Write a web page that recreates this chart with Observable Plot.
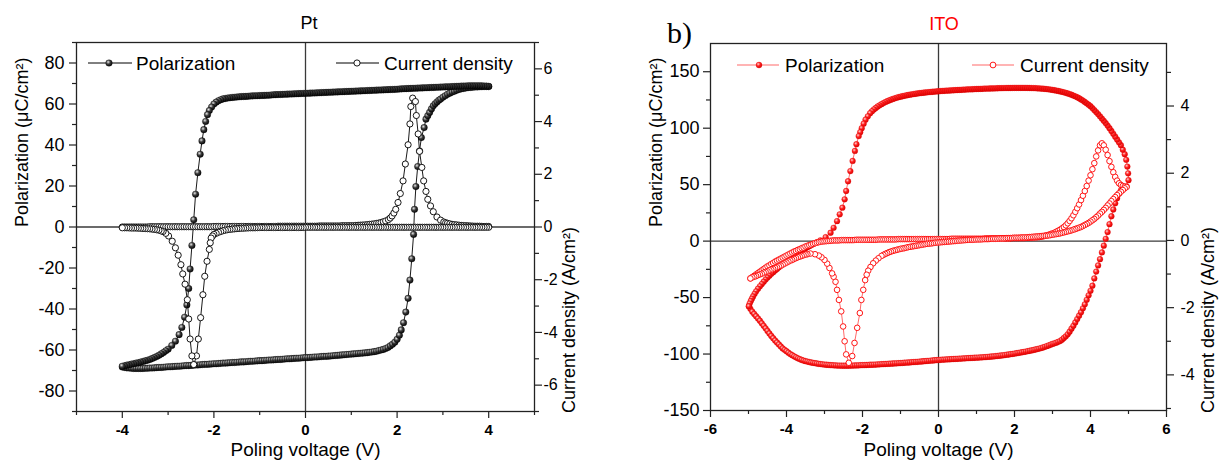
<!DOCTYPE html>
<html><head><meta charset="utf-8">
<script src="https://cdn.jsdelivr.net/npm/d3@7"></script>
<script src="https://cdn.jsdelivr.net/npm/@observablehq/plot@0.6"></script>
<style>
body{margin:0;background:#fff;}
#wrap{position:relative;width:1219px;height:466px;overflow:hidden;background:#fff;}
</style></head><body>
<div id="wrap"></div>
<script>
// ---------------- DATA ----------------
// Pt panel: [voltage V, polarization µC/cm²], rising sweep then falling sweep
const ptPolLower = [[-4.0,-68.3],[-3.95,-68.5],[-3.9,-68.7],[-3.85,-68.8],[-3.8,-68.9],[-3.75,-69.0],[-3.7,-69.0],[-3.65,-69.0],[-3.6,-69.0],[-3.55,-69.0],[-3.5,-68.9],[-3.45,-68.9],[-3.4,-68.8],[-3.35,-68.8],[-3.3,-68.7],[-3.25,-68.6],[-3.2,-68.5],[-3.15,-68.5],[-3.1,-68.4],[-3.05,-68.3],[-3.0,-68.2],[-2.95,-68.2],[-2.9,-68.1],[-2.85,-68.0],[-2.8,-67.9],[-2.75,-67.9],[-2.7,-67.8],[-2.65,-67.7],[-2.6,-67.6],[-2.55,-67.6],[-2.5,-67.5],[-2.45,-67.4],[-2.4,-67.3],[-2.35,-67.3],[-2.3,-67.2],[-2.25,-67.1],[-2.2,-67.0],[-2.15,-67.0],[-2.1,-66.9],[-2.05,-66.8],[-2.0,-66.7],[-1.95,-66.7],[-1.9,-66.6],[-1.85,-66.5],[-1.8,-66.4],[-1.75,-66.4],[-1.7,-66.3],[-1.65,-66.2],[-1.6,-66.1],[-1.55,-66.1],[-1.5,-66.0],[-1.45,-65.9],[-1.4,-65.8],[-1.35,-65.8],[-1.3,-65.7],[-1.25,-65.6],[-1.2,-65.5],[-1.15,-65.5],[-1.1,-65.4],[-1.05,-65.3],[-1.0,-65.2],[-0.95,-65.2],[-0.9,-65.1],[-0.85,-65.0],[-0.8,-64.9],[-0.75,-64.9],[-0.7,-64.8],[-0.65,-64.7],[-0.6,-64.6],[-0.55,-64.6],[-0.5,-64.5],[-0.45,-64.4],[-0.4,-64.3],[-0.35,-64.3],[-0.3,-64.2],[-0.25,-64.1],[-0.2,-64.0],[-0.15,-64.0],[-0.1,-63.9],[-0.05,-63.8],[0.0,-63.7],[0.05,-63.7],[0.1,-63.6],[0.15,-63.5],[0.2,-63.4],[0.25,-63.4],[0.3,-63.3],[0.35,-63.2],[0.4,-63.1],[0.45,-63.1],[0.5,-63.0],[0.55,-62.9],[0.6,-62.8],[0.65,-62.7],[0.7,-62.6],[0.75,-62.5],[0.8,-62.4],[0.85,-62.3],[0.9,-62.2],[0.95,-62.1],[1.0,-62.0],[1.05,-61.9],[1.1,-61.8],[1.15,-61.7],[1.2,-61.6],[1.25,-61.5],[1.3,-61.4],[1.35,-61.3],[1.4,-61.1],[1.45,-61.0],[1.5,-60.8],[1.55,-60.6],[1.6,-60.3],[1.65,-60.0],[1.7,-59.7],[1.75,-59.3],[1.8,-58.8],[1.85,-58.0],[1.9,-57.2],[1.95,-56.2],[2.0,-54.8],[2.05,-52.8],[2.09,-50.2],[2.14,-46.7],[2.19,-41.5],[2.24,-34.8],[2.28,-25.9],[2.32,-15.5],[2.36,-3.6],[2.38,8.6],[2.41,19.7],[2.45,29.5],[2.49,37.1],[2.53,43.6],[2.59,48.5],[2.63,52.6],[2.67,54.3],[2.71,55.9],[2.75,57.6],[2.79,59.1],[2.83,60.1],[2.87,61.0],[2.91,61.8],[2.95,62.4],[3.0,63.3],[3.05,64.0],[3.1,64.7],[3.15,65.3],[3.2,65.8],[3.25,66.2],[3.3,66.7],[3.35,67.1],[3.4,67.4],[3.45,67.6],[3.5,67.8],[3.55,68.0],[3.6,68.1],[3.65,68.2],[3.7,68.3],[3.75,68.35],[3.8,68.4],[3.85,68.45],[3.9,68.5],[3.95,68.5],[4.0,68.5]];
const ptPolUpper = [[4.0,68.6],[3.95,68.7],[3.9,68.8],[3.85,68.85],[3.8,68.9],[3.75,68.9],[3.7,68.9],[3.65,68.9],[3.6,68.9],[3.55,68.85],[3.5,68.8],[3.45,68.75],[3.4,68.7],[3.35,68.65],[3.3,68.6],[3.25,68.55],[3.2,68.5],[3.15,68.45],[3.1,68.4],[3.05,68.35],[3.0,68.3],[2.95,68.25],[2.9,68.2],[2.85,68.15],[2.8,68.1],[2.75,68.05],[2.7,68.0],[2.65,67.95],[2.6,67.9],[2.55,67.85],[2.5,67.8],[2.45,67.75],[2.4,67.7],[2.35,67.65],[2.3,67.6],[2.25,67.55],[2.2,67.5],[2.15,67.45],[2.1,67.4],[2.05,67.3],[2.0,67.2],[1.95,67.15],[1.9,67.1],[1.85,67.05],[1.8,67.0],[1.75,66.95],[1.7,66.9],[1.65,66.85],[1.6,66.8],[1.55,66.75],[1.5,66.7],[1.45,66.65],[1.4,66.6],[1.35,66.55],[1.3,66.5],[1.25,66.45],[1.2,66.4],[1.15,66.35],[1.1,66.3],[1.05,66.25],[1.0,66.2],[0.95,66.15],[0.9,66.1],[0.85,66.05],[0.8,66.0],[0.75,65.95],[0.7,65.9],[0.65,65.85],[0.6,65.8],[0.55,65.75],[0.5,65.7],[0.45,65.65],[0.4,65.6],[0.35,65.55],[0.3,65.5],[0.25,65.45],[0.2,65.4],[0.15,65.35],[0.1,65.3],[0.05,65.25],[0.0,65.2],[-0.05,65.15],[-0.1,65.1],[-0.15,65.05],[-0.2,65.0],[-0.25,64.95],[-0.3,64.9],[-0.35,64.85],[-0.4,64.8],[-0.45,64.75],[-0.5,64.7],[-0.55,64.65],[-0.6,64.6],[-0.65,64.55],[-0.7,64.5],[-0.75,64.4],[-0.8,64.3],[-0.85,64.25],[-0.9,64.2],[-0.95,64.15],[-1.0,64.1],[-1.05,64.05],[-1.1,64.0],[-1.15,63.95],[-1.2,63.9],[-1.25,63.8],[-1.3,63.7],[-1.35,63.65],[-1.4,63.6],[-1.45,63.5],[-1.5,63.4],[-1.55,63.3],[-1.6,63.2],[-1.65,63.05],[-1.7,62.9],[-1.75,62.7],[-1.8,62.5],[-1.85,62.1],[-1.9,61.6],[-1.95,60.9],[-2.0,60.0],[-2.05,58.5],[-2.1,56.8],[-2.14,54.8],[-2.18,51.5],[-2.22,47.5],[-2.26,42.0],[-2.3,35.5],[-2.35,26.5],[-2.4,16.0],[-2.44,3.5],[-2.48,-9.0],[-2.52,-20.5],[-2.55,-30.0],[-2.59,-38.0],[-2.64,-44.0],[-2.7,-49.0],[-2.76,-52.5],[-2.84,-55.7],[-2.92,-57.8],[-3.0,-59.6],[-3.05,-60.4],[-3.1,-61.2],[-3.15,-61.9],[-3.2,-62.6],[-3.25,-63.2],[-3.3,-63.7],[-3.35,-64.2],[-3.4,-64.6],[-3.45,-65.0],[-3.5,-65.3],[-3.55,-65.6],[-3.6,-65.9],[-3.65,-66.2],[-3.7,-66.4],[-3.75,-66.7],[-3.8,-66.9],[-3.85,-67.2],[-3.9,-67.4],[-3.95,-67.7],[-4.0,-67.9]];
// Pt panel: [voltage V, current density A/cm²]
const ptCurUp = [[-4.0,0.0],[-3.95,0.0],[-3.9,0.0],[-3.85,0.0],[-3.8,0.0],[-3.75,0.0],[-3.7,0.0],[-3.65,0.0],[-3.6,0.0],[-3.55,0.0],[-3.5,0.0],[-3.45,0.0],[-3.4,0.01],[-3.35,0.01],[-3.3,0.01],[-3.25,0.01],[-3.2,0.01],[-3.15,0.01],[-3.1,0.01],[-3.05,0.01],[-3.0,0.01],[-2.95,0.01],[-2.9,0.01],[-2.85,0.01],[-2.8,0.01],[-2.75,0.01],[-2.7,0.01],[-2.65,0.01],[-2.6,0.01],[-2.55,0.01],[-2.5,0.01],[-2.45,0.01],[-2.4,0.01],[-2.35,0.01],[-2.3,0.01],[-2.25,0.01],[-2.2,0.01],[-2.15,0.01],[-2.1,0.01],[-2.05,0.01],[-2.0,0.02],[-1.95,0.02],[-1.9,0.02],[-1.85,0.02],[-1.8,0.02],[-1.75,0.02],[-1.7,0.02],[-1.65,0.02],[-1.6,0.02],[-1.55,0.02],[-1.5,0.02],[-1.45,0.02],[-1.4,0.02],[-1.35,0.02],[-1.3,0.02],[-1.25,0.02],[-1.2,0.02],[-1.15,0.02],[-1.1,0.02],[-1.05,0.02],[-1.0,0.02],[-0.95,0.02],[-0.9,0.02],[-0.85,0.02],[-0.8,0.02],[-0.75,0.02],[-0.7,0.02],[-0.65,0.02],[-0.6,0.03],[-0.55,0.03],[-0.5,0.03],[-0.45,0.03],[-0.4,0.03],[-0.35,0.03],[-0.3,0.03],[-0.25,0.03],[-0.2,0.03],[-0.15,0.03],[-0.1,0.03],[-0.05,0.03],[0.0,0.03],[0.05,0.03],[0.1,0.03],[0.15,0.03],[0.2,0.03],[0.25,0.03],[0.3,0.04],[0.35,0.04],[0.4,0.04],[0.45,0.04],[0.5,0.04],[0.55,0.04],[0.6,0.04],[0.65,0.04],[0.7,0.04],[0.75,0.04],[0.8,0.05],[0.85,0.05],[0.9,0.05],[0.95,0.05],[1.0,0.05],[1.05,0.05],[1.1,0.06],[1.15,0.065],[1.2,0.07],[1.25,0.075],[1.3,0.08],[1.35,0.09],[1.4,0.1],[1.45,0.11],[1.5,0.12],[1.55,0.135],[1.6,0.15],[1.65,0.17],[1.7,0.2],[1.75,0.23],[1.81,0.28],[1.85,0.34],[1.89,0.42],[1.93,0.53],[1.97,0.67],[2.02,0.93],[2.07,1.27],[2.13,1.75],[2.18,2.39],[2.24,3.12],[2.28,3.91],[2.3,4.57],[2.34,4.89],[2.4,4.76],[2.42,4.23],[2.46,3.53],[2.49,2.87],[2.54,2.26],[2.58,1.75],[2.63,1.35],[2.67,1.05],[2.73,0.8],[2.79,0.58],[2.87,0.38],[2.95,0.26],[3.02,0.19],[3.06,0.16],[3.1,0.14],[3.15,0.12],[3.2,0.1],[3.25,0.09],[3.3,0.08],[3.35,0.07],[3.4,0.06],[3.45,0.055],[3.5,0.05],[3.55,0.045],[3.6,0.04],[3.65,0.035],[3.7,0.03],[3.75,0.03],[3.8,0.03],[3.85,0.025],[3.9,0.02],[3.95,0.02],[4.0,0.02]];
const ptCurDown = [[4.0,-0.01],[3.95,-0.01],[3.9,-0.01],[3.85,-0.01],[3.8,-0.01],[3.75,-0.01],[3.7,-0.01],[3.65,-0.01],[3.6,-0.01],[3.55,-0.01],[3.5,-0.01],[3.45,-0.01],[3.4,-0.01],[3.35,-0.01],[3.3,-0.01],[3.25,-0.01],[3.2,-0.01],[3.15,-0.01],[3.1,-0.01],[3.05,-0.01],[3.0,-0.01],[2.95,-0.01],[2.9,-0.01],[2.85,-0.01],[2.8,-0.01],[2.75,-0.01],[2.7,-0.01],[2.65,-0.01],[2.6,-0.01],[2.55,-0.01],[2.5,-0.01],[2.45,-0.01],[2.4,-0.01],[2.35,-0.01],[2.3,-0.01],[2.25,-0.01],[2.2,-0.01],[2.15,-0.01],[2.1,-0.01],[2.05,-0.01],[2.0,-0.01],[1.95,-0.01],[1.9,-0.01],[1.85,-0.01],[1.8,-0.01],[1.75,-0.01],[1.7,-0.01],[1.65,-0.01],[1.6,-0.01],[1.55,-0.01],[1.5,-0.01],[1.45,-0.01],[1.4,-0.01],[1.35,-0.01],[1.3,-0.01],[1.25,-0.01],[1.2,-0.01],[1.15,-0.01],[1.1,-0.01],[1.05,-0.01],[1.0,-0.01],[0.95,-0.01],[0.9,-0.01],[0.85,-0.01],[0.8,-0.01],[0.75,-0.01],[0.7,-0.01],[0.65,-0.01],[0.6,-0.01],[0.55,-0.01],[0.5,-0.01],[0.45,-0.01],[0.4,-0.01],[0.35,-0.01],[0.3,-0.01],[0.25,-0.01],[0.2,-0.01],[0.15,-0.01],[0.1,-0.01],[0.05,-0.01],[0.0,-0.01],[-0.05,-0.02],[-0.1,-0.02],[-0.15,-0.02],[-0.2,-0.02],[-0.25,-0.02],[-0.3,-0.02],[-0.35,-0.02],[-0.4,-0.02],[-0.45,-0.02],[-0.5,-0.02],[-0.55,-0.02],[-0.6,-0.02],[-0.65,-0.02],[-0.7,-0.02],[-0.75,-0.02],[-0.8,-0.02],[-0.85,-0.02],[-0.9,-0.02],[-0.95,-0.02],[-1.0,-0.02],[-1.05,-0.025],[-1.1,-0.03],[-1.15,-0.03],[-1.2,-0.03],[-1.25,-0.035],[-1.3,-0.04],[-1.35,-0.045],[-1.4,-0.05],[-1.45,-0.055],[-1.5,-0.06],[-1.55,-0.07],[-1.6,-0.08],[-1.65,-0.09],[-1.7,-0.1],[-1.75,-0.12],[-1.8,-0.14],[-1.85,-0.17],[-1.9,-0.2],[-1.95,-0.24],[-2.0,-0.28],[-2.03,-0.34],[-2.06,-0.42],[-2.08,-0.6],[-2.1,-0.85],[-2.15,-1.3],[-2.2,-1.87],[-2.24,-2.57],[-2.29,-3.44],[-2.34,-4.25],[-2.38,-4.89],[-2.44,-5.22],[-2.48,-4.89],[-2.52,-4.25],[-2.55,-3.49],[-2.58,-2.76],[-2.63,-2.17],[-2.68,-1.78],[-2.72,-1.43],[-2.78,-1.07],[-2.84,-0.79],[-2.91,-0.54],[-2.99,-0.34],[-3.05,-0.24],[-3.11,-0.17],[-3.15,-0.15],[-3.2,-0.12],[-3.25,-0.105],[-3.3,-0.09],[-3.35,-0.08],[-3.4,-0.07],[-3.45,-0.065],[-3.5,-0.06],[-3.55,-0.055],[-3.6,-0.05],[-3.65,-0.045],[-3.7,-0.04],[-3.75,-0.04],[-3.8,-0.04],[-3.85,-0.035],[-3.9,-0.03],[-3.95,-0.03],[-4.0,-0.03]];

// ITO panel: [voltage V, polarization µC/cm²]
const itoPolLower = [[-4.99,-57.7],[-4.95,-60],[-4.9,-62.5],[-4.85,-64.5],[-4.8,-66.5],[-4.75,-68.5],[-4.7,-70.5],[-4.65,-72.8],[-4.6,-75],[-4.55,-77.2],[-4.5,-79.5],[-4.45,-81.8],[-4.4,-84],[-4.35,-86],[-4.3,-88],[-4.25,-89.8],[-4.2,-91.5],[-4.15,-93.3],[-4.1,-95],[-4.05,-96.3],[-4.0,-97.5],[-3.95,-98.8],[-3.9,-100],[-3.85,-101],[-3.8,-102],[-3.75,-102.9],[-3.7,-103.8],[-3.65,-104.5],[-3.6,-105.2],[-3.55,-105.8],[-3.5,-106.3],[-3.45,-106.7],[-3.4,-107.1],[-3.35,-107.5],[-3.3,-107.8],[-3.25,-108.1],[-3.2,-108.4],[-3.15,-108.7],[-3.1,-108.9],[-3.05,-109.1],[-3.0,-109.3],[-2.95,-109.5],[-2.9,-109.6],[-2.85,-109.8],[-2.8,-109.9],[-2.75,-110.0],[-2.7,-110.1],[-2.65,-110.2],[-2.6,-110.2],[-2.55,-110.3],[-2.5,-110.3],[-2.45,-110.3],[-2.4,-110.3],[-2.35,-110.3],[-2.3,-110.2],[-2.25,-110.2],[-2.2,-110.1],[-2.15,-110.1],[-2.1,-110.0],[-2.05,-109.9],[-2.0,-109.8],[-1.95,-109.8],[-1.9,-109.7],[-1.85,-109.6],[-1.8,-109.5],[-1.75,-109.5],[-1.7,-109.4],[-1.65,-109.3],[-1.6,-109.2],[-1.55,-109.1],[-1.5,-109.0],[-1.45,-108.9],[-1.4,-108.8],[-1.35,-108.7],[-1.3,-108.6],[-1.25,-108.5],[-1.2,-108.4],[-1.15,-108.3],[-1.1,-108.2],[-1.05,-108.1],[-1.0,-108.0],[-0.95,-107.9],[-0.9,-107.7],[-0.85,-107.6],[-0.8,-107.5],[-0.75,-107.4],[-0.7,-107.2],[-0.65,-107.1],[-0.6,-107.0],[-0.55,-106.9],[-0.5,-106.7],[-0.45,-106.6],[-0.4,-106.4],[-0.35,-106.3],[-0.3,-106.1],[-0.25,-106.0],[-0.2,-105.8],[-0.15,-105.7],[-0.1,-105.5],[-0.05,-105.4],[0.0,-105.3],[0.05,-105.1],[0.1,-105.0],[0.15,-104.9],[0.2,-104.8],[0.25,-104.7],[0.3,-104.6],[0.35,-104.5],[0.4,-104.4],[0.45,-104.3],[0.5,-104.2],[0.55,-104.1],[0.6,-104.0],[0.65,-103.9],[0.7,-103.8],[0.75,-103.7],[0.8,-103.6],[0.85,-103.5],[0.9,-103.4],[0.95,-103.3],[1.0,-103.2],[1.05,-103.1],[1.1,-103.0],[1.15,-102.9],[1.2,-102.8],[1.25,-102.7],[1.3,-102.5],[1.35,-102.4],[1.4,-102.2],[1.45,-102.1],[1.5,-101.9],[1.55,-101.7],[1.6,-101.5],[1.65,-101.3],[1.7,-101.1],[1.75,-100.9],[1.8,-100.6],[1.85,-100.4],[1.9,-100.1],[1.95,-99.9],[2.0,-99.6],[2.05,-99.3],[2.1,-99.0],[2.15,-98.7],[2.2,-98.4],[2.25,-98.1],[2.3,-97.8],[2.35,-97.5],[2.4,-97.1],[2.45,-96.8],[2.5,-96.4],[2.55,-96.0],[2.6,-95.6],[2.65,-95.2],[2.7,-94.7],[2.75,-94.2],[2.8,-93.6],[2.85,-93.0],[2.9,-92.4],[2.95,-91.7],[3.0,-91.0],[3.05,-90.5],[3.1,-89.9],[3.15,-89.2],[3.2,-88.5],[3.25,-87.3],[3.3,-85.8],[3.35,-84.3],[3.4,-82.5],[3.45,-80.2],[3.5,-77.5],[3.55,-75],[3.6,-72],[3.65,-69],[3.7,-66],[3.75,-63],[3.8,-59.5],[3.85,-56],[3.9,-52],[3.95,-48],[4.0,-44],[4.05,-39.5],[4.1,-33],[4.15,-27],[4.2,-21.5],[4.25,-16],[4.3,-10],[4.35,-4],[4.4,2],[4.45,8],[4.5,15],[4.55,22],[4.6,28],[4.65,33.5],[4.7,38],[4.75,42],[4.8,45],[4.85,47],[4.9,48],[4.95,48.5]];
const itoPolUpper = [[5.0,54],[4.99,60],[4.97,66],[4.94,72],[4.9,77],[4.85,81],[4.8,85],[4.75,87.5],[4.7,90],[4.65,92.5],[4.6,95],[4.55,97.5],[4.5,100],[4.45,102.3],[4.4,104.5],[4.35,106.5],[4.3,108.5],[4.25,110.5],[4.2,112.5],[4.15,114.3],[4.1,116],[4.05,117.8],[4.0,119.5],[3.95,120.8],[3.9,122],[3.85,123.3],[3.8,124.5],[3.75,125.5],[3.7,126.5],[3.65,127.4],[3.6,128.2],[3.55,128.9],[3.5,129.6],[3.45,130.2],[3.4,130.8],[3.35,131.3],[3.3,131.8],[3.25,132.2],[3.2,132.6],[3.15,133.0],[3.1,133.3],[3.05,133.6],[3.0,133.9],[2.95,134.2],[2.9,134.4],[2.85,134.6],[2.8,134.8],[2.75,135.0],[2.7,135.1],[2.65,135.2],[2.6,135.3],[2.55,135.4],[2.5,135.5],[2.45,135.55],[2.4,135.6],[2.35,135.65],[2.3,135.7],[2.25,135.7],[2.2,135.7],[2.15,135.7],[2.1,135.7],[2.05,135.7],[2.0,135.7],[1.95,135.65],[1.9,135.6],[1.85,135.6],[1.8,135.6],[1.75,135.55],[1.7,135.5],[1.65,135.45],[1.6,135.4],[1.55,135.35],[1.5,135.3],[1.45,135.25],[1.4,135.2],[1.35,135.15],[1.3,135.1],[1.25,135.05],[1.2,135.0],[1.15,134.9],[1.1,134.8],[1.05,134.75],[1.0,134.7],[0.95,134.6],[0.9,134.5],[0.85,134.45],[0.8,134.4],[0.75,134.3],[0.7,134.2],[0.65,134.1],[0.6,134.0],[0.55,133.9],[0.5,133.8],[0.45,133.7],[0.4,133.6],[0.35,133.5],[0.3,133.4],[0.25,133.3],[0.2,133.2],[0.15,133.1],[0.1,133.0],[0.05,132.85],[0.0,132.7],[-0.05,132.55],[-0.1,132.4],[-0.15,132.25],[-0.2,132.1],[-0.25,131.95],[-0.3,131.8],[-0.35,131.6],[-0.4,131.4],[-0.45,131.2],[-0.5,131.0],[-0.55,130.75],[-0.6,130.5],[-0.65,130.25],[-0.7,130.0],[-0.75,129.7],[-0.8,129.4],[-0.85,129.05],[-0.9,128.7],[-0.95,128.3],[-1.0,127.9],[-1.05,127.45],[-1.1,127.0],[-1.15,126.45],[-1.2,125.9],[-1.25,125.25],[-1.3,124.6],[-1.35,123.85],[-1.4,123.1],[-1.45,122.2],[-1.5,121.3],[-1.55,120.25],[-1.6,119.2],[-1.65,117.9],[-1.7,116.6],[-1.75,115.0],[-1.8,113.3],[-1.86,110.5],[-1.92,107.5],[-1.97,104],[-2.02,100],[-2.06,96.5],[-2.1,93],[-2.16,85.8],[-2.2,79.9],[-2.26,71],[-2.32,62],[-2.38,53],[-2.43,44.4],[-2.47,37],[-2.53,29.6],[-2.6,23.7],[-2.67,17.7],[-2.76,11.8],[-2.84,7.4],[-2.97,3.5],[-3.11,0.6],[-3.2,-1.0],[-3.28,-2.4],[-3.35,-3.6],[-3.4,-4.5],[-3.45,-5.4],[-3.5,-6.3],[-3.55,-7.3],[-3.6,-8.3],[-3.65,-9.4],[-3.7,-10.5],[-3.75,-11.7],[-3.8,-13],[-3.85,-14.2],[-3.9,-15.5],[-3.95,-16.7],[-4.0,-18],[-4.05,-19.2],[-4.1,-20.5],[-4.15,-21.8],[-4.2,-23.2],[-4.25,-24.6],[-4.3,-26],[-4.35,-27.5],[-4.4,-29],[-4.45,-30.6],[-4.5,-32.3],[-4.55,-34.1],[-4.6,-36],[-4.65,-38],[-4.7,-40],[-4.75,-42.2],[-4.8,-44.5],[-4.84,-46.7],[-4.88,-49],[-4.91,-51],[-4.94,-53],[-4.97,-55.3],[-4.99,-57.7]];
// ITO panel: [voltage V, current density A/cm²]
const itoCurUp = [[-4.95,-1.13],[-4.9,-1.09],[-4.85,-1.05],[-4.8,-1.01],[-4.75,-0.97],[-4.7,-0.93],[-4.65,-0.89],[-4.6,-0.85],[-4.55,-0.81],[-4.5,-0.77],[-4.45,-0.74],[-4.4,-0.7],[-4.35,-0.67],[-4.3,-0.63],[-4.25,-0.6],[-4.2,-0.57],[-4.15,-0.54],[-4.1,-0.51],[-4.05,-0.48],[-4.0,-0.45],[-3.95,-0.42],[-3.9,-0.39],[-3.85,-0.36],[-3.8,-0.33],[-3.75,-0.31],[-3.7,-0.28],[-3.65,-0.26],[-3.6,-0.23],[-3.55,-0.21],[-3.5,-0.18],[-3.45,-0.16],[-3.4,-0.14],[-3.35,-0.12],[-3.3,-0.1],[-3.25,-0.08],[-3.2,-0.065],[-3.15,-0.05],[-3.1,-0.04],[-3.05,-0.03],[-3.0,-0.025],[-2.95,-0.02],[-2.9,-0.015],[-2.85,-0.01],[-2.8,-0.005],[-2.75,0.0],[-2.7,0.0],[-2.65,0.0],[-2.6,0.005],[-2.55,0.01],[-2.5,0.01],[-2.45,0.01],[-2.4,0.01],[-2.35,0.01],[-2.3,0.01],[-2.25,0.01],[-2.2,0.015],[-2.15,0.02],[-2.1,0.02],[-2.05,0.02],[-2.0,0.02],[-1.95,0.02],[-1.9,0.02],[-1.85,0.02],[-1.8,0.02],[-1.75,0.02],[-1.7,0.02],[-1.65,0.02],[-1.6,0.025],[-1.55,0.03],[-1.5,0.03],[-1.45,0.03],[-1.4,0.03],[-1.35,0.03],[-1.3,0.03],[-1.25,0.03],[-1.2,0.03],[-1.15,0.03],[-1.1,0.035],[-1.05,0.04],[-1.0,0.04],[-0.95,0.04],[-0.9,0.04],[-0.85,0.04],[-0.8,0.04],[-0.75,0.04],[-0.7,0.04],[-0.65,0.04],[-0.6,0.04],[-0.55,0.04],[-0.5,0.04],[-0.45,0.04],[-0.4,0.04],[-0.35,0.04],[-0.3,0.04],[-0.25,0.04],[-0.2,0.04],[-0.15,0.04],[-0.1,0.04],[-0.05,0.04],[0.0,0.04],[0.05,0.04],[0.1,0.04],[0.15,0.04],[0.2,0.04],[0.25,0.04],[0.3,0.045],[0.35,0.05],[0.4,0.05],[0.45,0.05],[0.5,0.05],[0.55,0.05],[0.6,0.05],[0.65,0.05],[0.7,0.05],[0.75,0.05],[0.8,0.05],[0.85,0.05],[0.9,0.05],[0.95,0.05],[1.0,0.05],[1.05,0.05],[1.1,0.05],[1.15,0.05],[1.2,0.055],[1.25,0.06],[1.3,0.06],[1.35,0.06],[1.4,0.06],[1.45,0.06],[1.5,0.06],[1.55,0.06],[1.6,0.06],[1.65,0.06],[1.7,0.06],[1.75,0.06],[1.8,0.06],[1.85,0.06],[1.9,0.065],[1.95,0.07],[2.0,0.07],[2.05,0.07],[2.1,0.07],[2.15,0.07],[2.2,0.07],[2.25,0.07],[2.3,0.075],[2.35,0.08],[2.4,0.08],[2.45,0.08],[2.5,0.085],[2.55,0.09],[2.6,0.095],[2.65,0.1],[2.7,0.11],[2.75,0.12],[2.8,0.135],[2.85,0.15],[2.9,0.17],[2.95,0.19],[3.0,0.21],[3.05,0.23],[3.1,0.26],[3.15,0.29],[3.2,0.32],[3.25,0.36],[3.3,0.4],[3.35,0.45],[3.4,0.51],[3.45,0.58],[3.5,0.66],[3.55,0.75],[3.6,0.85],[3.65,0.96],[3.7,1.07],[3.75,1.2],[3.8,1.33],[3.85,1.47],[3.9,1.62],[3.95,1.78],[4.0,1.94],[4.05,2.12],[4.1,2.3],[4.15,2.5],[4.2,2.68],[4.25,2.83],[4.3,2.89],[4.35,2.83],[4.4,2.7],[4.45,2.54],[4.5,2.36],[4.55,2.19],[4.6,2.03],[4.65,1.89],[4.7,1.78],[4.75,1.7],[4.8,1.65],[4.85,1.62],[4.9,1.6],[4.95,1.59]];
const itoCurDown = [[4.9,1.55],[4.85,1.5],[4.8,1.45],[4.75,1.4],[4.7,1.35],[4.65,1.29],[4.6,1.23],[4.55,1.17],[4.5,1.1],[4.45,1.04],[4.4,0.97],[4.35,0.91],[4.3,0.85],[4.25,0.8],[4.2,0.74],[4.15,0.69],[4.1,0.64],[4.05,0.6],[4.0,0.56],[3.95,0.52],[3.9,0.49],[3.85,0.46],[3.8,0.43],[3.75,0.4],[3.7,0.38],[3.65,0.36],[3.6,0.34],[3.55,0.32],[3.5,0.3],[3.45,0.285],[3.4,0.27],[3.35,0.255],[3.3,0.24],[3.25,0.225],[3.2,0.21],[3.15,0.2],[3.1,0.19],[3.05,0.18],[3.0,0.17],[2.95,0.16],[2.9,0.15],[2.85,0.145],[2.8,0.14],[2.75,0.135],[2.7,0.13],[2.65,0.125],[2.6,0.12],[2.55,0.115],[2.5,0.11],[2.45,0.105],[2.4,0.1],[2.35,0.095],[2.3,0.09],[2.25,0.09],[2.2,0.09],[2.15,0.085],[2.1,0.08],[2.05,0.08],[2.0,0.08],[1.95,0.075],[1.9,0.07],[1.85,0.07],[1.8,0.07],[1.75,0.065],[1.7,0.06],[1.65,0.06],[1.6,0.06],[1.55,0.055],[1.5,0.05],[1.45,0.05],[1.4,0.05],[1.35,0.045],[1.3,0.04],[1.25,0.04],[1.2,0.04],[1.15,0.035],[1.1,0.03],[1.05,0.03],[1.0,0.03],[0.95,0.025],[0.9,0.02],[0.85,0.02],[0.8,0.02],[0.75,0.015],[0.7,0.01],[0.65,0.005],[0.6,0.0],[0.55,-0.005],[0.5,-0.01],[0.45,-0.015],[0.4,-0.02],[0.35,-0.025],[0.3,-0.03],[0.25,-0.035],[0.2,-0.04],[0.15,-0.045],[0.1,-0.05],[0.05,-0.055],[0.0,-0.06],[-0.05,-0.065],[-0.1,-0.07],[-0.15,-0.08],[-0.2,-0.09],[-0.25,-0.095],[-0.3,-0.1],[-0.35,-0.11],[-0.4,-0.12],[-0.45,-0.13],[-0.5,-0.14],[-0.55,-0.15],[-0.6,-0.16],[-0.65,-0.17],[-0.7,-0.18],[-0.75,-0.19],[-0.8,-0.2],[-0.85,-0.215],[-0.9,-0.23],[-0.95,-0.24],[-1.0,-0.25],[-1.05,-0.265],[-1.1,-0.28],[-1.15,-0.295],[-1.2,-0.31],[-1.25,-0.33],[-1.3,-0.35],[-1.35,-0.375],[-1.4,-0.4],[-1.45,-0.43],[-1.5,-0.46],[-1.58,-0.53],[-1.65,-0.6],[-1.72,-0.68],[-1.79,-0.79],[-1.85,-0.9],[-1.89,-1.02],[-1.93,-1.18],[-1.98,-1.47],[-2.03,-1.77],[-2.07,-2.16],[-2.14,-2.6],[-2.21,-3.05],[-2.27,-3.44],[-2.36,-3.64],[-2.43,-3.39],[-2.47,-3.0],[-2.51,-2.56],[-2.56,-2.11],[-2.62,-1.77],[-2.67,-1.47],[-2.71,-1.23],[-2.76,-1.08],[-2.8,-0.98],[-2.87,-0.82],[-2.93,-0.69],[-3.0,-0.58],[-3.08,-0.5],[-3.15,-0.45],[-3.25,-0.41],[-3.37,-0.39],[-3.45,-0.41],[-3.5,-0.42],[-3.55,-0.44],[-3.6,-0.46],[-3.65,-0.48],[-3.7,-0.5],[-3.75,-0.525],[-3.8,-0.55],[-3.85,-0.58],[-3.9,-0.6],[-3.95,-0.63],[-4.0,-0.66],[-4.05,-0.69],[-4.1,-0.72],[-4.15,-0.75],[-4.2,-0.77],[-4.25,-0.8],[-4.3,-0.82],[-4.35,-0.85],[-4.4,-0.87],[-4.45,-0.89],[-4.5,-0.92],[-4.55,-0.94],[-4.6,-0.96],[-4.65,-0.99],[-4.7,-1.01],[-4.75,-1.03],[-4.8,-1.06],[-4.85,-1.08],[-4.9,-1.1],[-4.95,-1.13]];

// tick values
const ptXMajor = [-4, -2, 0, 2, 4];
const ptXMinor = [-5, -3, -1, 1, 3, 5];
const ptPMajor = [-80, -60, -40, -20, 0, 20, 40, 60, 80];
const ptPMinor = [-90, -70, -50, -30, -10, 10, 30, 50, 70, 90];
const ptJMajor = [-6, -4, -2, 0, 2, 4, 6];
const ptJMinor = [-7, -5, -3, -1, 1, 3, 5, 7];
const itoXMajor = [-6, -4, -2, 0, 2, 4, 6];
const itoXMinor = [-5, -3, -1, 1, 3, 5];
const itoPMajor = [-150, -100, -50, 0, 50, 100, 150];
const itoPMinor = [-125, -75, -25, 25, 75, 125];
const itoJMajor = [-4, -2, 0, 2, 4];
const itoJMinor = [-5, -3, -1, 1, 3, 5];

// ---------------- DRAWING ----------------
const FONT = '"Liberation Sans", Arial, Helvetica, sans-serif';
const NARROW = '"Liberation Sans Narrow", "Arial Narrow", "Liberation Sans", Arial, sans-serif';
const fmt = d => String(d);
const blank = () => "";
const wrap = document.getElementById("wrap");
const AX = "#222";

function layer(left, width, svg) {
  const d = document.createElement("div");
  d.style.cssText = `position:absolute;left:${left}px;top:0;width:${width}px;height:466px;`;
  d.appendChild(svg);
  wrap.appendChild(d);
}
const toPol = arr => arr.map(([v, p]) => ({v, p}));
const toCur = arr => arr.map(([v, j]) => ({v, j}));

const ptPol = toPol(ptPolLower.concat(ptPolUpper));
const ptCur = toCur(ptCurUp.concat(ptCurDown));
const itoPol = toPol(itoPolLower.concat(itoPolUpper));
const itoCur = toCur(itoCurUp.concat(itoCurDown));

const baseStyle = {background: "transparent", fontFamily: FONT, overflow: "visible"};
const xTickText = {fontSize: 15, fontFamily: NARROW, fontWeight: "bold"};

// ---- Pt, polarization (left axis)
const ptM = {width: 610, height: 466, marginLeft: 76, marginRight: 76, marginTop: 42, marginBottom: 55};
layer(0, 610, Plot.plot({
  ...ptM, style: baseStyle,
  x: {domain: [-5, 5]}, y: {domain: [-90, 90]},
  marks: [
    Plot.ruleX([0], {stroke: "#3a3a3a", strokeWidth: 1.3}),
    Plot.ruleY([0], {stroke: "#3a3a3a", strokeWidth: 1.3}),
    Plot.line(ptPol, {x: "v", y: "p", stroke: "#000", strokeWidth: 0.9}),
    Plot.dot(ptPol, {x: "v", y: "p", r: 3.3, fill: "url(#gBlk)", stroke: "#000", strokeWidth: 0.3}),
    Plot.frame({stroke: AX, strokeWidth: 1.3}),
    Plot.axisX(ptXMajor, {tickSize: 7, tickPadding: 6, tickFormat: fmt, ...xTickText, label: null, stroke: AX, strokeWidth: 1.2}),
    Plot.axisX(ptXMinor, {tickSize: 4, tickFormat: blank, label: null, stroke: AX, strokeWidth: 1.2}),
    Plot.axisY(ptPMajor, {anchor: "left", tickSize: 7, tickPadding: 5, tickFormat: fmt, fontSize: 18, label: null, stroke: AX, strokeWidth: 1.2}),
    Plot.axisY(ptPMinor, {anchor: "left", tickSize: 4, tickFormat: blank, label: null, stroke: AX, strokeWidth: 1.2}),
    Plot.text(["Poling voltage (V)"], {frameAnchor: "bottom", dy: 44, fontSize: 19}),
    Plot.text(["Polarization (μC/cm²)"], {frameAnchor: "left", dx: -54, rotate: -90, fontSize: 18})
  ]
}));
// ---- Pt, current density (right axis)
layer(0, 610, Plot.plot({
  ...ptM, style: baseStyle,
  x: {domain: [-5, 5], axis: null}, y: {domain: [-7, 7]},
  marks: [
    Plot.line(ptCur, {x: "v", y: "j", stroke: "#000", strokeWidth: 0.9}),
    Plot.dot(ptCur, {x: "v", y: "j", r: 3.1, fill: "#fff", stroke: "#000", strokeWidth: 0.9}),
    Plot.axisY(ptJMajor, {anchor: "right", tickSize: 7, tickPadding: 2, tickFormat: fmt, fontSize: 16, label: null, stroke: AX, strokeWidth: 1.2}),
    Plot.axisY(ptJMinor, {anchor: "right", tickSize: 4, tickFormat: blank, label: null, stroke: AX, strokeWidth: 1.2}),
    Plot.text(["Current density (A/cm²)"], {frameAnchor: "right", dx: 35, rotate: -90, fontSize: 18})
  ]
}));

// ---- ITO, polarization (left axis)
const itoM = {width: 609, height: 466, marginLeft: 100, marginRight: 53, marginTop: 43, marginBottom: 56};
const RED = "#ff0000", RLINE = "#ff6a6a";
layer(610, 609, Plot.plot({
  ...itoM, style: baseStyle,
  x: {domain: [-6, 6]}, y: {domain: [-150, 175]},
  marks: [
    Plot.ruleX([0], {stroke: "#3a3a3a", strokeWidth: 1.3}),
    Plot.ruleY([0], {stroke: "#3a3a3a", strokeWidth: 1.3}),
    Plot.line(itoPol, {x: "v", y: "p", stroke: RLINE, strokeWidth: 1}),
    Plot.dot(itoPol, {x: "v", y: "p", r: 2.9, fill: "url(#gRed)", stroke: "#e00000", strokeWidth: 0.3}),
    Plot.frame({stroke: AX, strokeWidth: 1.3}),
    Plot.axisX(itoXMajor, {tickSize: 7, tickPadding: 6, tickFormat: fmt, ...xTickText, label: null, stroke: AX, strokeWidth: 1.2}),
    Plot.axisX(itoXMinor, {tickSize: 4, tickFormat: blank, label: null, stroke: AX, strokeWidth: 1.2}),
    Plot.axisY(itoPMajor, {anchor: "left", tickSize: 7, tickPadding: 4, tickFormat: fmt, fontSize: 18, label: null, stroke: AX, strokeWidth: 1.2}),
    Plot.axisY(itoPMinor, {anchor: "left", tickSize: 4, tickFormat: blank, label: null, stroke: AX, strokeWidth: 1.2}),
    Plot.text(["Poling voltage (V)"], {frameAnchor: "bottom", dy: 45, fontSize: 19}),
    Plot.text(["Polarization (μC/cm²)"], {frameAnchor: "left", dx: -54, rotate: -90, fontSize: 18})
  ]
}));
// ---- ITO, current density (right axis)
layer(610, 609, Plot.plot({
  ...itoM, style: baseStyle,
  x: {domain: [-6, 6], axis: null}, y: {domain: [-5.06, 5.86]},
  marks: [
    Plot.line(itoCur, {x: "v", y: "j", stroke: RLINE, strokeWidth: 1}),
    Plot.dot(itoCur, {x: "v", y: "j", r: 2.8, fill: "#fff", stroke: RED, strokeWidth: 0.9}),
    Plot.axisY(itoJMajor, {anchor: "right", tickSize: 7, tickPadding: 7, tickFormat: fmt, fontSize: 16, label: null, stroke: AX, strokeWidth: 1.2}),
    Plot.axisY(itoJMinor, {anchor: "right", tickSize: 4, tickFormat: blank, label: null, stroke: AX, strokeWidth: 1.2}),
    Plot.text(["Current density (A/cm²)"], {frameAnchor: "right", dx: 42, rotate: -90, fontSize: 18})
  ]
}));

// ---- titles, panel letter, legends, gradients
const ov = document.createElementNS("http://www.w3.org/2000/svg", "svg");
ov.setAttribute("width", 1219); ov.setAttribute("height", 466);
ov.style.cssText = "position:absolute;left:0;top:0;overflow:visible;";
ov.setAttribute("font-family", FONT);
ov.innerHTML = `
<defs>
  <radialGradient id="gBlk" cx="0.38" cy="0.35" r="0.7">
    <stop offset="0" stop-color="#e8e8e8"/><stop offset="0.45" stop-color="#3c3c3c"/><stop offset="1" stop-color="#000"/>
  </radialGradient>
  <radialGradient id="gRed" cx="0.38" cy="0.35" r="0.7">
    <stop offset="0" stop-color="#ffd0d0"/><stop offset="0.45" stop-color="#ff2020"/><stop offset="1" stop-color="#d80000"/>
  </radialGradient>
</defs>
<text x="309" y="29" text-anchor="middle" font-size="18" fill="#000">Pt</text>
<text x="944" y="30" text-anchor="middle" font-size="18" fill="${RED}">ITO</text>
<text x="667" y="43" font-size="30" font-family='"Liberation Serif", "Times New Roman", serif' fill="#000">b)</text>
<g>
  <line x1="88" y1="63" x2="132" y2="63" stroke="#000" stroke-width="1"/>
  <circle cx="109" cy="63" r="3.3" fill="url(#gBlk)" stroke="#000" stroke-width="0.3"/>
  <text x="136" y="70" font-size="19">Polarization</text>
  <line x1="336" y1="63" x2="379" y2="63" stroke="#000" stroke-width="1"/>
  <circle cx="357" cy="63" r="3.1" fill="#fff" stroke="#000" stroke-width="0.9"/>
  <text x="384" y="70" font-size="19">Current density</text>
</g>
<g>
  <line x1="737" y1="65" x2="779" y2="65" stroke="${RLINE}" stroke-width="1.2"/>
  <circle cx="759" cy="65" r="3" fill="url(#gRed)" stroke="#e00000" stroke-width="0.3"/>
  <text x="785" y="72" font-size="19">Polarization</text>
  <line x1="972" y1="65" x2="1014" y2="65" stroke="${RLINE}" stroke-width="1.2"/>
  <circle cx="993" cy="65" r="2.9" fill="#fff" stroke="${RED}" stroke-width="0.9"/>
  <text x="1020" y="72" font-size="19">Current density</text>
</g>`;
wrap.appendChild(ov);
</script>
</body></html>
